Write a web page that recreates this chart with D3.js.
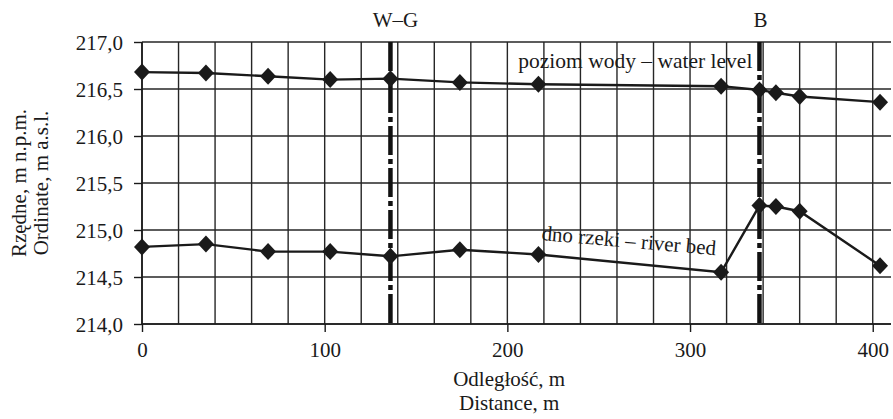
<!DOCTYPE html>
<html>
<head>
<meta charset="utf-8">
<script src="https://cdn.jsdelivr.net/npm/d3@7"></script>
<style>
  body { margin: 0; background: #fff; }
  svg text { font-family: "Liberation Serif", "Times New Roman", serif; fill: #1a1a1a; }
</style>
</head>
<body>
<svg id="grafico" width="893" height="419"></svg>
<script>
// Dane
let odleglosc = [0, 35, 69, 103, 136, 174, 217, 317, 338, 347, 360, 404];
let poziomWody = [216.68, 216.67, 216.635, 216.6, 216.61, 216.57, 216.55, 216.53, 216.49, 216.46, 216.42, 216.36];
let dnoRzeki = [214.82, 214.85, 214.77, 214.77, 214.72, 214.79, 214.74, 214.55, 215.26, 215.25, 215.2, 214.62];
let xTicks = [0, 100, 200, 300, 400];
let xSiatka = d3.range(0, 401, 20);
let yTicks = [214, 214.5, 215, 215.5, 216, 216.5, 217];
let przekroje = ["W–G", "B"];
let przekrojeX = [136, 338];

let svg = d3.select("#grafico");
let lewo = 142, prawo = 891, gora = 42, dol = 324;

let fnX = d3.scaleLinear().domain([0, 410]).range([lewo, prawo]);
let fnY = d3.scaleLinear().domain([214, 217]).range([dol, gora]);
let fmt = (d) => d3.format(".1f")(d).replace(".", ",");

// Siatka
let siatka = svg.append("g").attr("stroke", "#262626").attr("stroke-width", 1.4);
siatka
  .selectAll(".pion")
  .data(xSiatka)
  .enter()
  .append("line")
  .attr("x1", (d) => fnX(d))
  .attr("x2", (d) => fnX(d))
  .attr("y1", gora)
  .attr("y2", dol);
siatka
  .selectAll(".poziom")
  .data(yTicks)
  .enter()
  .append("line")
  .attr("x1", lewo)
  .attr("x2", prawo)
  .attr("y1", (d) => fnY(d))
  .attr("y2", (d) => fnY(d));

// Osie
let osX = svg
  .append("g")
  .attr("transform", `translate(0,${dol})`)
  .call(d3.axisBottom(fnX).tickValues(xTicks).tickSize(8).tickPadding(10).tickFormat(d3.format("d")));
let osY = svg
  .append("g")
  .attr("transform", `translate(${lewo},0)`)
  .call(d3.axisLeft(fnY).tickValues(yTicks).tickSize(8).tickPadding(11).tickFormat(fmt));
[osX, osY].forEach((o) => {
  o.attr("font-family", null);
  o.select(".domain").remove();
  o.selectAll("line").attr("stroke", "#1a1a1a").attr("stroke-width", 1.4);
  o.selectAll("text").attr("font-size", 21).attr("fill", "#1a1a1a");
});
osY.selectAll("text").attr("dy", "0.35em");
svg.append("line").attr("x1", lewo).attr("x2", prawo).attr("y1", dol).attr("y2", dol)
  .attr("stroke", "#1a1a1a").attr("stroke-width", 1.6);
svg.append("line").attr("x1", lewo).attr("x2", lewo).attr("y1", gora).attr("y2", dol)
  .attr("stroke", "#1a1a1a").attr("stroke-width", 1.6);

// Przekroje
svg
  .selectAll(".przekroj")
  .data(przekrojeX)
  .enter()
  .append("line")
  .attr("x1", (d) => fnX(d))
  .attr("x2", (d) => fnX(d))
  .attr("y1", gora)
  .attr("y2", dol)
  .attr("stroke", "#111")
  .attr("stroke-width", 4.5)
  .attr("stroke-dasharray", "29,4,5,4");
svg
  .selectAll(".przekrojEt")
  .data(przekroje)
  .enter()
  .append("text")
  .attr("x", (d, i) => fnX(przekrojeX[i]) + (i == 0 ? 5 : 1))
  .attr("y", 27)
  .attr("text-anchor", "middle")
  .attr("font-size", 21)
  .text((d) => d);

// Serie
let linia = d3.line().x((d, i) => fnX(odleglosc[i])).y((d) => fnY(d));
let romb = "M0,-8.5L8,0L0,8.5L-8,0Z";
[poziomWody, dnoRzeki].forEach((seria) => {
  svg.append("path").datum(seria).attr("d", linia)
    .attr("fill", "none").attr("stroke", "#1a1a1a").attr("stroke-width", 2.4);
  svg
    .append("g")
    .selectAll("path")
    .data(seria)
    .enter()
    .append("path")
    .attr("d", romb)
    .attr("transform", (d, i) => `translate(${fnX(odleglosc[i])},${fnY(d)})`)
    .attr("fill", "#1a1a1a");
});

// Etykiety serii
svg.append("text").attr("x", fnX(206)).attr("y", 68).attr("font-size", 21.5)
  .text("poziom wody – water level");
svg.append("text").attr("font-size", 21)
  .attr("transform", `translate(${fnX(218.5)},240) rotate(5)`)
  .text("dno rzeki – river bed");

// Tytuły osi
let tytulX = svg.append("g").attr("text-anchor", "middle").attr("font-size", 21);
tytulX.append("text").attr("x", fnX(201)).attr("y", 386).text("Odległość, m");
tytulX.append("text").attr("x", fnX(201)).attr("y", 410).text("Distance, m");
let tytulY = svg.append("g").attr("transform", "translate(0,183)");
tytulY.append("text").attr("text-anchor", "middle").attr("font-size", 21)
  .attr("transform", "translate(26,0) rotate(-90)").text("Rzędne, m n.p.m.");
tytulY.append("text").attr("text-anchor", "middle").attr("font-size", 21)
  .attr("transform", "translate(48,0) rotate(-90)").text("Ordinate, m a.s.l.");
</script>
</body>
</html>
